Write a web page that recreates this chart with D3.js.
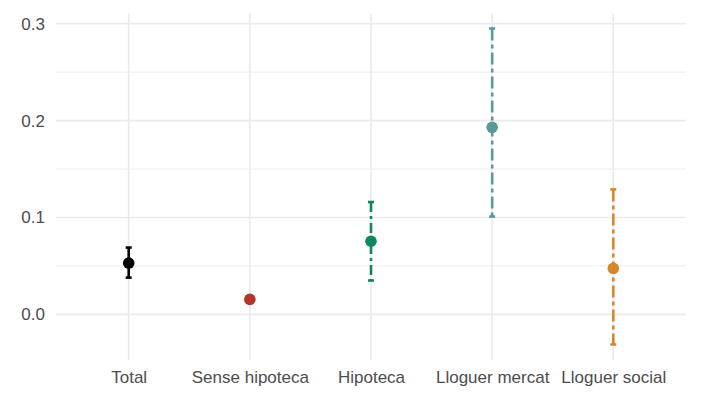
<!DOCTYPE html>
<html lang="ca">
<head>
<meta charset="UTF-8">
<title>Chart</title>
<script src="https://d3js.org/d3.v7.min.js"></script>
<style>
  body { margin: 0; background: #fff; }
  text { font-family: "Liberation Sans", Arial, sans-serif; }
</style>
</head>
<body>
<div id="content"></div>
<script>
const categories = ["Total", "Sense hipoteca", "Hipoteca", "Lloguer mercat", "Lloguer social"];
const estimates = [0.053, 0.0155, 0.0755, 0.193, 0.0475];
const lowers = [0.038, 0.013, 0.035, 0.101, -0.031];
const uppers = [0.069, 0.018, 0.116, 0.295, 0.129];
const colors = ["#000000", "#B0362B", "#0E8660", "#589A9A", "#D3892B"];
const dashes = ["none", "6,4", "10,4,3,4", "12,4,4,4", "12,4,4,4"];
const yTicks = [0, 0.1, 0.2, 0.3];
const yMinor = [-0.05, 0.05, 0.15, 0.25];

const width = 709, height = 401;
const margin = { top: 13, right: 23, bottom: 41, left: 56 };

const svg = d3.select("#content").append("svg")
    .attr("width", width)
    .attr("height", height);

const x = d3.scalePoint()
    .domain(categories)
    .range([margin.left, width - margin.right])
    .padding(0.6);

const y = d3.scaleLinear()
    .domain([-0.047, 0.311])
    .range([height - margin.bottom, margin.top]);

const grid = svg.append("g");

grid.selectAll(".minor")
    .data(yMinor.filter(d => y(d) <= height - margin.bottom))
    .enter().append("line")
    .attr("x1", margin.left).attr("x2", width - margin.right)
    .attr("y1", d => y(d)).attr("y2", d => y(d))
    .attr("stroke", "#ebebeb").attr("stroke-width", 1);

grid.selectAll(".major")
    .data(yTicks)
    .enter().append("line")
    .attr("x1", margin.left).attr("x2", width - margin.right)
    .attr("y1", d => y(d)).attr("y2", d => y(d))
    .attr("stroke", "#ebebeb").attr("stroke-width", 1.7);

grid.selectAll(".vmajor")
    .data(categories)
    .enter().append("line")
    .attr("x1", d => x(d)).attr("x2", d => x(d))
    .attr("y1", margin.top).attr("y2", height - margin.bottom)
    .attr("stroke", "#ebebeb").attr("stroke-width", 1.7);

// axes (text only)
const yAxis = svg.append("g")
    .attr("transform", `translate(${margin.left},0)`)
    .call(d3.axisLeft(y).tickValues(yTicks).tickFormat(d3.format(".1f")).tickSize(0).tickPadding(11));
yAxis.select(".domain").remove();
yAxis.selectAll("text").attr("font-size", 17).attr("fill", "#4d4d4d");

const xAxis = svg.append("g")
    .attr("transform", `translate(0,${height - margin.bottom})`)
    .call(d3.axisBottom(x).tickSize(0).tickPadding(11));
xAxis.select(".domain").remove();
xAxis.selectAll("text").attr("font-size", 17).attr("fill", "#4d4d4d");

const data = categories.map((c, i) => ({
    cat: c, est: estimates[i], lo: lowers[i], hi: uppers[i], color: colors[i], dash: dashes[i]
}));

const marks = svg.append("g");

marks.selectAll(".bar")
    .data(data)
    .enter().append("line")
    .attr("x1", d => x(d.cat)).attr("x2", d => x(d.cat))
    .attr("y1", d => y(d.hi)).attr("y2", d => y(d.lo))
    .attr("stroke", d => d.color)
    .attr("stroke-width", 2.6)
    .attr("stroke-dasharray", d => d.dash);

const capW = 3;
["hi", "lo"].forEach(k => {
    marks.selectAll(".cap-" + k)
        .data(data)
        .enter().append("line")
        .attr("x1", d => x(d.cat) - capW).attr("x2", d => x(d.cat) + capW)
        .attr("y1", d => y(d[k])).attr("y2", d => y(d[k]))
        .attr("stroke", d => d.color)
        .attr("stroke-width", 2.6);
});

marks.selectAll(".pt")
    .data(data)
    .enter().append("circle")
    .attr("cx", d => x(d.cat))
    .attr("cy", d => y(d.est))
    .attr("r", 5.8)
    .attr("fill", d => d.color);
</script>
</body>
</html>
